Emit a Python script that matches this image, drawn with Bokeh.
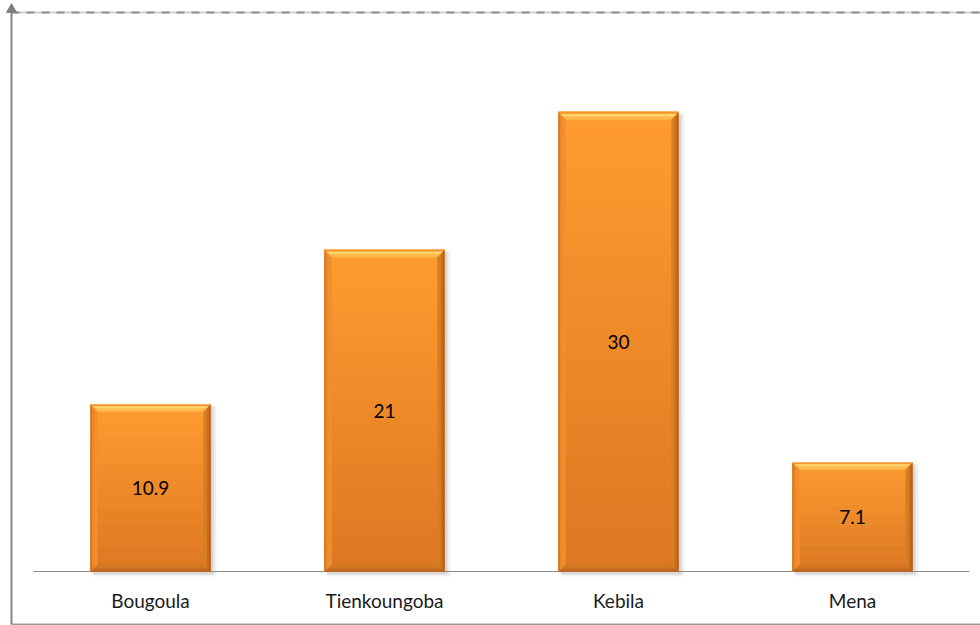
import numpy as np
from bokeh.plotting import figure
from bokeh.models import Range1d, ColumnDataSource
from bokeh.core.properties import value
from bokeh.embed import file_html
from bokeh.resources import INLINE

# ---- data ----
categories = ["Bougoula", "Tienkoungoba", "Kebila", "Mena"]
values = [10.9, 21, 30, 7.1]
value_labels = ["10.9", "21", "30", "7.1"]

# ---- layout constants (pixels) ----
W, H = 980, 625
XPX = 234.0   # px per category band
YPX = 15.3    # px per value unit
X0 = 33       # px from figure left to first band
Y0 = 571      # px from figure top to baseline
BAR_PX = 120  # bar width px
FONT = "Lato"

def dx(px):
    return px / XPX

def dy(px):
    return px / YPX

p = figure(width=W, height=H, output_backend="svg", toolbar_location=None,
           x_range=Range1d(-X0 / XPX, (W - X0) / XPX),
           y_range=Range1d(-(H - Y0) / YPX, Y0 / YPX),
           x_axis_type=None, y_axis_type=None, min_border=0,
           background_fill_color="white", border_fill_color="white")
p.outline_line_color = None

n = len(categories)
centers = [i + 0.5 for i in range(n)]

# ---- frame decorations ----
BOX_L = dx(11 - X0)
BOX_T = dy(Y0 - 12)
BOX_B = dy(Y0 - 624)
BOX_R = dx(W + 10 - X0)
p.segment(x0=[BOX_L], y0=[BOX_T], x1=[BOX_R], y1=[BOX_T], line_color="#CFCFCF", line_width=2)
p.segment(x0=[BOX_L], y0=[BOX_T], x1=[BOX_R], y1=[BOX_T], line_color="#8E8E8E", line_width=2, line_dash="8 7")
p.segment(x0=[BOX_L], y0=[BOX_T], x1=[BOX_L], y1=[BOX_B], line_color="#868686", line_width=2)
p.segment(x0=[BOX_L], y0=[BOX_B], x1=[BOX_R], y1=[BOX_B], line_color="#9A9A9A", line_width=2)
p.scatter(x=[BOX_L], y=[dy(Y0 - 9)], marker="triangle", size=10, fill_color="#7F7F7F", line_color="#7F7F7F")

# ---- bars ----
lefts = [c - dx(BAR_PX / 2) for c in centers]
rights = [c + dx(BAR_PX / 2) for c in centers]

# shadow
p.quad(left=[l + dx(3) for l in lefts], right=[r + dx(6) for r in rights],
       bottom=[-dy(5)] * n, top=[v - dy(1) for v in values],
       fill_color="#000000", fill_alpha=0.06, line_color=None)
p.quad(left=[l + dx(2) for l in lefts], right=[r + dx(3) for r in rights],
       bottom=[-dy(3)] * n, top=[v - dy(2) for v in values],
       fill_color="#000000", fill_alpha=0.10, line_color=None)

# baseline
p.segment(x0=[0], y0=[0], x1=[n], y1=[0], line_color="#8A8A8A", line_width=1)

def hex2rgb(h):
    h = h.lstrip("#")
    return np.array([int(h[i:i + 2], 16) for i in (0, 2, 4)], dtype=float)

def rgb2hex(c):
    return "#%02x%02x%02x" % tuple(int(round(v)) for v in c)

c_bot = hex2rgb("#DC7822")
c_top = hex2rgb("#FF9C30")
NS = 60
ql, qr, qb, qt, qc = [], [], [], [], []
for l, r, v in zip(lefts, rights, values):
    for k in range(NS):
        t = (k + 0.5) / NS
        ql.append(l); qr.append(r)
        qb.append(v * k / NS); qt.append(v * (k + 1) / NS + v * 0.002)
        qc.append(rgb2hex(c_bot + (c_top - c_bot) * t))
p.quad(source=ColumnDataSource(dict(left=ql, right=qr, bottom=qb, top=qt, color=qc)),
       left="left", right="right", bottom="bottom", top="top",
       fill_color="color", line_color="color", line_width=0.5)

# bevel rings: depths in px (outer -> inner) and side colors per layer
depths = [0, 1.5, 4, 7]
side_cols = {
    "top":    ["#F2962F", "#FFD66E", "#FFBA4C"],
    "bottom": ["#B4621C", "#C86F21", "#D47622"],
    "left":   ["#CF7420", "#EC882B", "#F38E2D"],
    "right":  ["#B0601A", "#C66E1F", "#D97D25"],
}
xs, ys, cols = [], [], []
for l, r, v in zip(lefts, rights, values):
    for j in range(len(depths) - 1):
        a, b = depths[j], depths[j + 1]
        L0, L1 = l + dx(a), l + dx(b)
        R0, R1 = r - dx(a), r - dx(b)
        T0, T1 = v - dy(a), v - dy(b)
        B0, B1 = dy(a), dy(b)
        xs += [[L0, R0, R1, L1], [L0, R0, R1, L1], [L0, L0, L1, L1], [R0, R0, R1, R1]]
        ys += [[T0, T0, T1, T1], [B0, B0, B1, B1], [B0, T0, T1, B1], [B0, T0, T1, B1]]
        cols += [side_cols["top"][j], side_cols["bottom"][j], side_cols["left"][j], side_cols["right"][j]]
p.patches(source=ColumnDataSource(dict(xs=xs, ys=ys, color=cols)), xs="xs", ys="ys",
          fill_color="color", line_color="color", line_width=0.3)

# ---- labels ----
p.text(x=centers, y=[v / 2 for v in values], text=value_labels,
       text_font=value(FONT), text_font_size="19px", text_color="#000000",
       text_align="center", text_baseline="middle")
p.text(x=centers, y=[0] * n, text=categories, y_offset=29,
       text_font=value(FONT), text_font_size="19px", text_color="#1A1A1A",
       text_align="center", text_baseline="middle")

open("out.html", "w").write(file_html(p, INLINE))
